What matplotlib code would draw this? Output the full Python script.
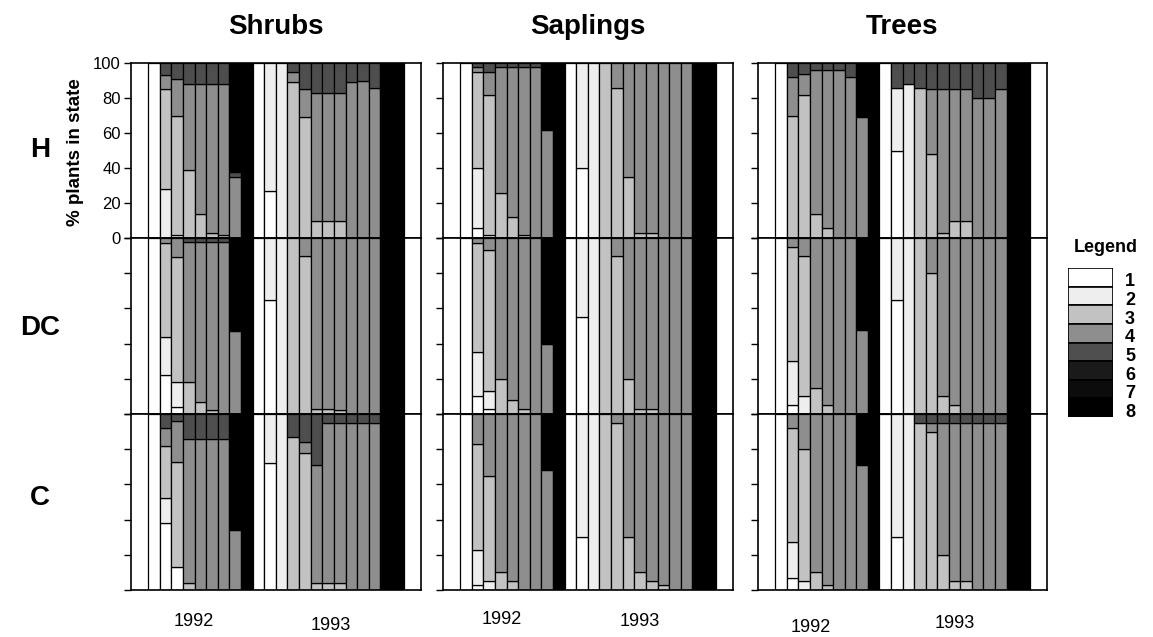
import matplotlib
matplotlib.use('Agg')
import numpy as np
import matplotlib.pyplot as plt

plt.rcParams['font.family'] = ['Liberation Sans', 'DejaVu Sans']

groups = ['Shrubs', 'Saplings', 'Trees']
treatments = ['H', 'DC', 'C']
years = ['1992', '1993']
states = ['1', '2', '3', '4', '5', '6', '7', '8']
state_colors = ['#ffffff', '#eeeeee', '#c2c2c2', '#8e8e8e', '#4e4e4e', '#1a1a1a', '#0c0c0c', '#000000']

# % of plants in each state (1..8) for every sampling date; 9 dates in 1992, 13 in 1993
W = [100, 0, 0, 0, 0, 0, 0, 0]
D = [0, 0, 0, 0, 0, 0, 0, 100]

shrubs_h = [
    W, [0, 28, 57, 8, 7, 0, 0, 0], [0, 2, 68, 21, 9, 0, 0, 0], [0, 0, 39, 49, 12, 0, 0, 0],
    [0, 0, 14, 74, 12, 0, 0, 0], [0, 0, 3, 85, 12, 0, 0, 0], [0, 0, 2, 86, 12, 0, 0, 0],
    [0, 0, 0, 35, 3, 0, 0, 62], D,
    W, [27, 73, 0, 0, 0, 0, 0, 0], [0, 100, 0, 0, 0, 0, 0, 0], [0, 0, 89, 6, 5, 0, 0, 0],
    [0, 0, 69, 16, 15, 0, 0, 0], [0, 0, 10, 73, 17, 0, 0, 0], [0, 0, 10, 73, 17, 0, 0, 0],
    [0, 0, 10, 73, 17, 0, 0, 0], [0, 0, 0, 89, 11, 0, 0, 0], [0, 0, 0, 90, 10, 0, 0, 0],
    [0, 0, 0, 86, 14, 0, 0, 0], D, D,
]
shrubs_dc = [
    W, [22, 22, 53, 3, 0, 0, 0, 0], [4, 14, 71, 11, 0, 0, 0, 0], [0, 0, 18, 80, 2, 0, 0, 0],
    [0, 0, 7, 91, 2, 0, 0, 0], [0, 0, 2, 96, 2, 0, 0, 0], [0, 0, 0, 98, 2, 0, 0, 0],
    [0, 0, 0, 47, 0, 0, 0, 53], D,
    W, [65, 35, 0, 0, 0, 0, 0, 0], [0, 100, 0, 0, 0, 0, 0, 0], [0, 0, 100, 0, 0, 0, 0, 0],
    [0, 0, 90, 10, 0, 0, 0, 0], [0, 0, 3, 97, 0, 0, 0, 0], [0, 0, 3, 97, 0, 0, 0, 0],
    [0, 0, 2, 98, 0, 0, 0, 0], [0, 0, 0, 100, 0, 0, 0, 0], [0, 0, 0, 100, 0, 0, 0, 0],
    [0, 0, 0, 100, 0, 0, 0, 0], D, D,
]
shrubs_c = [
    W, [38, 14, 30, 10, 8, 0, 0, 0], [13, 0, 60, 23, 4, 0, 0, 0], [0, 0, 4, 82, 14, 0, 0, 0],
    [0, 0, 0, 86, 14, 0, 0, 0], [0, 0, 0, 86, 14, 0, 0, 0], [0, 0, 0, 86, 14, 0, 0, 0],
    [0, 0, 0, 34, 0, 0, 0, 66], D,
    W, [72, 28, 0, 0, 0, 0, 0, 0], [0, 100, 0, 0, 0, 0, 0, 0], [0, 0, 87, 0, 13, 0, 0, 0],
    [0, 0, 78, 6, 16, 0, 0, 0], [0, 0, 4, 67, 29, 0, 0, 0], [0, 0, 4, 91, 5, 0, 0, 0],
    [0, 0, 4, 91, 5, 0, 0, 0], [0, 0, 0, 95, 5, 0, 0, 0], [0, 0, 0, 95, 5, 0, 0, 0],
    [0, 0, 0, 95, 5, 0, 0, 0], D, D,
]
saplings_h = [
    W, [6, 34, 55, 3, 2, 0, 0, 0], [0, 2, 80, 13, 5, 0, 0, 0], [0, 0, 26, 72, 2, 0, 0, 0],
    [0, 0, 12, 86, 2, 0, 0, 0], [0, 0, 2, 96, 2, 0, 0, 0], [0, 0, 0, 98, 2, 0, 0, 0],
    [0, 0, 0, 62, 0, 0, 0, 38], D,
    W, [40, 60, 0, 0, 0, 0, 0, 0], [0, 100, 0, 0, 0, 0, 0, 0], [0, 0, 100, 0, 0, 0, 0, 0],
    [0, 0, 86, 14, 0, 0, 0, 0], [0, 0, 35, 65, 0, 0, 0, 0], [0, 0, 3, 97, 0, 0, 0, 0],
    [0, 0, 3, 97, 0, 0, 0, 0], [0, 0, 0, 100, 0, 0, 0, 0], [0, 0, 0, 100, 0, 0, 0, 0],
    [0, 0, 0, 100, 0, 0, 0, 0], D, D,
]
saplings_dc = [
    W, [10, 25, 62, 3, 0, 0, 0, 0], [3, 10, 80, 7, 0, 0, 0, 0], [0, 0, 20, 80, 0, 0, 0, 0],
    [0, 0, 8, 92, 0, 0, 0, 0], [0, 0, 3, 97, 0, 0, 0, 0], [0, 0, 0, 100, 0, 0, 0, 0],
    [0, 0, 0, 40, 0, 0, 0, 60], D,
    W, [55, 45, 0, 0, 0, 0, 0, 0], [0, 100, 0, 0, 0, 0, 0, 0], [0, 0, 100, 0, 0, 0, 0, 0],
    [0, 0, 90, 10, 0, 0, 0, 0], [0, 0, 20, 80, 0, 0, 0, 0], [0, 0, 3, 97, 0, 0, 0, 0],
    [0, 0, 3, 97, 0, 0, 0, 0], [0, 0, 0, 100, 0, 0, 0, 0], [0, 0, 0, 100, 0, 0, 0, 0],
    [0, 0, 0, 100, 0, 0, 0, 0], D, D,
]
saplings_c = [
    W, [3, 20, 60, 17, 0, 0, 0, 0], [0, 5, 60, 35, 0, 0, 0, 0], [0, 0, 10, 90, 0, 0, 0, 0],
    [0, 0, 5, 95, 0, 0, 0, 0], [0, 0, 0, 100, 0, 0, 0, 0], [0, 0, 0, 100, 0, 0, 0, 0],
    [0, 0, 0, 68, 0, 0, 0, 32], D,
    W, [30, 70, 0, 0, 0, 0, 0, 0], [0, 100, 0, 0, 0, 0, 0, 0], [0, 0, 100, 0, 0, 0, 0, 0],
    [0, 0, 95, 5, 0, 0, 0, 0], [0, 0, 30, 70, 0, 0, 0, 0], [0, 0, 10, 90, 0, 0, 0, 0],
    [0, 0, 5, 95, 0, 0, 0, 0], [0, 0, 3, 97, 0, 0, 0, 0], [0, 0, 0, 100, 0, 0, 0, 0],
    [0, 0, 0, 100, 0, 0, 0, 0], D, D,
]
trees_h = [
    W, [0, 0, 70, 22, 8, 0, 0, 0], [0, 0, 82, 12, 6, 0, 0, 0], [0, 0, 14, 82, 4, 0, 0, 0],
    [0, 0, 6, 90, 4, 0, 0, 0], [0, 0, 0, 96, 4, 0, 0, 0], [0, 0, 0, 92, 8, 0, 0, 0],
    [0, 0, 0, 69, 0, 0, 0, 31], D,
    W, [50, 36, 0, 0, 14, 0, 0, 0], [0, 88, 0, 0, 12, 0, 0, 0], [0, 0, 86, 0, 14, 0, 0, 0],
    [0, 0, 48, 37, 15, 0, 0, 0], [0, 0, 3, 82, 15, 0, 0, 0], [0, 0, 10, 75, 15, 0, 0, 0],
    [0, 0, 10, 75, 15, 0, 0, 0], [0, 0, 0, 80, 20, 0, 0, 0], [0, 0, 0, 80, 20, 0, 0, 0],
    [0, 0, 0, 85, 15, 0, 0, 0], D, D,
]
trees_dc = [
    W, [5, 25, 65, 5, 0, 0, 0, 0], [0, 10, 80, 10, 0, 0, 0, 0], [0, 0, 15, 85, 0, 0, 0, 0],
    [0, 0, 5, 95, 0, 0, 0, 0], [0, 0, 0, 100, 0, 0, 0, 0], [0, 0, 0, 100, 0, 0, 0, 0],
    [0, 0, 0, 48, 0, 0, 0, 52], D,
    W, [65, 35, 0, 0, 0, 0, 0, 0], [0, 100, 0, 0, 0, 0, 0, 0], [0, 0, 100, 0, 0, 0, 0, 0],
    [0, 0, 80, 20, 0, 0, 0, 0], [0, 0, 10, 90, 0, 0, 0, 0], [0, 0, 5, 95, 0, 0, 0, 0],
    [0, 0, 0, 100, 0, 0, 0, 0], [0, 0, 0, 100, 0, 0, 0, 0], [0, 0, 0, 100, 0, 0, 0, 0],
    [0, 0, 0, 100, 0, 0, 0, 0], D, D,
]
trees_c = [
    W, [7, 20, 65, 8, 0, 0, 0, 0], [0, 5, 75, 20, 0, 0, 0, 0], [0, 0, 10, 90, 0, 0, 0, 0],
    [0, 0, 3, 97, 0, 0, 0, 0], [0, 0, 0, 100, 0, 0, 0, 0], [0, 0, 0, 100, 0, 0, 0, 0],
    [0, 0, 0, 71, 0, 0, 0, 29], D,
    W, [30, 70, 0, 0, 0, 0, 0, 0], [0, 100, 0, 0, 0, 0, 0, 0], [0, 0, 95, 0, 5, 0, 0, 0],
    [0, 0, 90, 5, 5, 0, 0, 0], [0, 0, 20, 75, 5, 0, 0, 0], [0, 0, 5, 90, 5, 0, 0, 0],
    [0, 0, 5, 90, 5, 0, 0, 0], [0, 0, 0, 95, 5, 0, 0, 0], [0, 0, 0, 95, 5, 0, 0, 0],
    [0, 0, 0, 95, 5, 0, 0, 0], D, D,
]

panels = [
    [shrubs_h, saplings_h, trees_h],
    [shrubs_dc, saplings_dc, trees_dc],
    [shrubs_c, saplings_c, trees_c],
]

FW, FH = 1153, 637
col_px = [(130.7, 421), (442.7, 733), (758, 1047)]
row_px = [(63, 238), (238, 414), (414, 590)]


def rect(x0, x1, y0, y1):
    return [x0 / FW, 1 - y1 / FH, (x1 - x0) / FW, (y1 - y0) / FH]


def draw_bars(ax, data):
    for i, bar in enumerate(data):
        bottom = 0
        for s, pct in enumerate(bar):
            if pct <= 0:
                continue
            ax.bar(i, pct, bottom=bottom, width=1, align='edge', color=state_colors[s],
                   edgecolor='black', linewidth=0.9)
            bottom += pct


fig = plt.figure(figsize=(FW / 100, FH / 100), dpi=100)

for r, (y0, y1) in enumerate(row_px):
    for c, (x0, x1) in enumerate(col_px):
        ax = fig.add_axes(rect(x0, x1, y0, y1))
        draw_bars(ax, panels[r][c])
        ax.set_xlim(-1.5, 23.5)
        ax.set_ylim(0, 100)
        ax.set_xticks([])
        ax.set_yticks(range(0, 101, 20))
        ax.tick_params(axis='y', direction='out', length=5, width=1, labelsize=12, pad=2)
        if not (r == 0 and c == 0):
            ax.set_yticklabels([])
        for sp in ax.spines.values():
            sp.set_linewidth(1.2)

# column and row titles
for c, name in enumerate(groups):
    x0, x1 = col_px[c]
    fig.text((x0 + x1) / 2 / FW, 1 - 27 / FH, name, ha='center', va='center',
             fontsize=20, fontweight='bold')
row_y = [150, 328, 498]
for r, name in enumerate(treatments):
    fig.text(40 / FW, 1 - row_y[r] / FH, name, ha='center', va='center',
             fontsize=20, fontweight='bold')
fig.text(75 / FW, 1 - 152 / FH, '% plants in state', rotation=90, ha='center', va='center',
         fontsize=13.5, fontweight='bold')

# year labels under each column
year_px = [[(194, 622), (331, 625)], [(502, 619), (640, 622)], [(811, 628), (955, 624)]]
for c in range(3):
    for k, yr in enumerate(years):
        xp, yp = year_px[c][k]
        fig.text(xp / FW, 1 - yp / FH, yr, ha='center', va='center', fontsize=13)

# legend
fig.text(1106 / FW, 1 - 248 / FH, 'Legend', ha='center', va='center', fontsize=13, fontweight='bold')
lax = fig.add_axes(rect(1068, 1113, 268, 417))
for k in range(len(states)):
    lax.bar(0, 1, bottom=len(states) - 1 - k, width=1, color=state_colors[k],
            edgecolor='black', linewidth=1.2)
    lax.text(0.88, len(states) - 0.75 - k, states[k], ha='center', va='center',
             fontsize=13, fontweight='bold', clip_on=False)
lax.set_xlim(-0.5, 0.5)
lax.set_ylim(0, len(states))
lax.axis('off')

fig.savefig('out.png', dpi=100)
